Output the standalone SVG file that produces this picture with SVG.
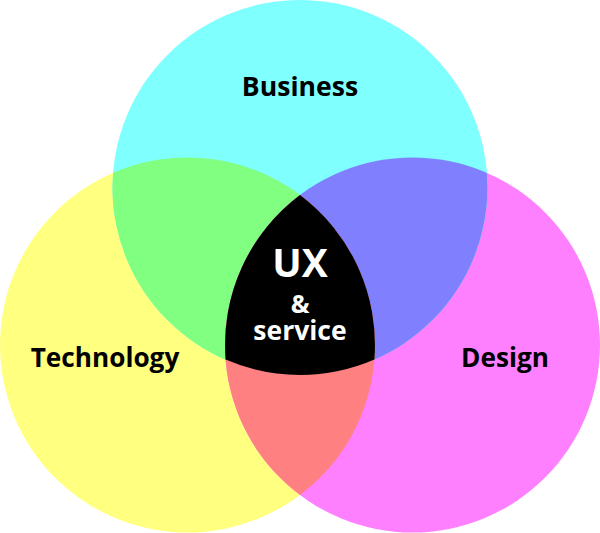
<svg xmlns="http://www.w3.org/2000/svg" width="600" height="533" viewBox="0 0 600 533">
  <style>
    .lbl { font-family: "Open Sans", "Liberation Sans", sans-serif; font-weight: 700; text-anchor: middle; fill: #000; }
    .core { font-family: "Open Sans", "Liberation Sans", sans-serif; font-weight: 700; text-anchor: middle; fill: #fff; }
  </style>
  <defs>
    <clipPath id="clipTop"><circle cx="300" cy="187.5" r="187.5"/></clipPath>
    <clipPath id="clipLeft"><circle cx="187.5" cy="345" r="187.5"/></clipPath>
    <clipPath id="clipRight"><circle cx="412.5" cy="345" r="187.5"/></clipPath>
  </defs>
  <rect width="600" height="533" fill="#fff"/>
  <g id="technology">
    <circle cx="187.5" cy="345" r="187.5" fill="#FFFF80"/>
  </g>
  <g id="design">
    <circle cx="412.5" cy="345" r="187.5" fill="#FF80FF"/>
  </g>
  <g id="business">
    <circle cx="300" cy="187.5" r="187.5" fill="#80FFFF"/>
  </g>
  <g id="overlaps">
    <circle cx="300" cy="187.5" r="187.5" fill="#80FF80" clip-path="url(#clipLeft)"/>
    <circle cx="300" cy="187.5" r="187.5" fill="#8080FF" clip-path="url(#clipRight)"/>
    <circle cx="187.5" cy="345" r="187.5" fill="#FF8080" clip-path="url(#clipRight)"/>
  </g>
  <g id="ux-service">
    <path d="M300,195 A187.5,187.5 0 0 1 374.4,359.6 A187.5,187.5 0 0 1 225.6,359.6 A187.5,187.5 0 0 1 300,195 Z" fill="#000"/>
    <text class="core" x="300" y="277" font-size="39">UX</text>
    <text class="core" x="300" y="313" font-size="25">&amp;</text>
    <text class="core" x="300" y="340" font-size="26.5">service</text>
  </g>
  <g id="labels">
    <text class="lbl" x="300" y="96" font-size="26.6">Business</text>
    <text class="lbl" x="105" y="367" font-size="26.2">Technology</text>
    <text class="lbl" x="505" y="367" font-size="26.2">Design</text>
  </g>
</svg>
